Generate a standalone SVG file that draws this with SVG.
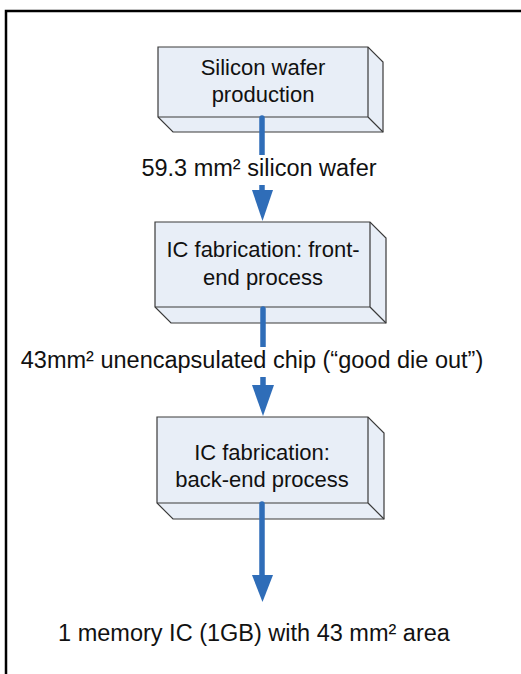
<svg xmlns="http://www.w3.org/2000/svg" width="521" height="674" viewBox="0 0 521 674">
<style>
.box{fill:#E8EEF7;stroke:#3a3a3a;stroke-width:1.2;stroke-linejoin:miter}
.edge{fill:none;stroke:#3a3a3a;stroke-width:1.2}
.t{font-family:"Liberation Sans",Arial,sans-serif;font-size:22px;fill:#111;text-anchor:middle}
.lbl{font-family:"Liberation Sans",Arial,sans-serif;font-size:23.5px;fill:#111;text-anchor:middle}
.shaft{stroke:#2F6DB8;stroke-width:5.5;stroke-linecap:round;fill:none}
.head{fill:#2F6DB8}
</style>
<rect width="521" height="674" fill="#fff"/>
<path d="M6,674 V11 H521" fill="none" stroke="#000" stroke-width="2.5"/>
<g id="n1">
<path class="box" d="M158,47 H368 L383,62 V132 H173 L158,117 Z"/>
<path class="edge" d="M158,117 H368 V47 M368,117 L383,132"/>
<text class="t" x="263" y="75">Silicon wafer</text>
<text class="t" x="263" y="102">production</text>
</g>
<g id="n2">
<path class="box" d="M155,222 H370 L386,238 V323 H171 L155,307 Z"/>
<path class="edge" d="M155,307 H370 V222 M370,307 L386,323"/>
<text class="t" x="263" y="257">IC fabrication: front-</text>
<text class="t" x="263" y="285">end process</text>
</g>
<g id="n3">
<path class="box" d="M157,417 H368 L384,433 V519 H173 L157,503 Z"/>
<path class="edge" d="M157,503 H368 V417 M368,503 L384,519"/>
<text class="t" x="262" y="460">IC fabrication:</text>
<text class="t" x="262" y="487">back-end process</text>
</g>
<g id="connectors">
<line class="shaft" x1="262" y1="118" x2="262" y2="192"/>
<polygon class="head" points="252,190 273,190 262.5,221"/>
<rect x="135" y="155" width="250" height="30" fill="#fff"/>
<text class="lbl" x="259" y="176">59.3 mm² silicon wafer</text>
<line class="shaft" x1="263" y1="309" x2="263" y2="387"/>
<polygon class="head" points="252,385 274,385 263,416"/>
<rect x="10" y="347" width="486" height="30" fill="#fff"/>
<text class="lbl" x="252" y="368">43mm² unencapsulated chip (“good die out”)</text>
<line class="shaft" x1="262" y1="504" x2="262" y2="577"/>
<polygon class="head" points="252,575 273,575 262.5,602"/>
<text class="lbl" x="254" y="641">1 memory IC (1GB) with 43 mm² area</text>
</g>
</svg>
